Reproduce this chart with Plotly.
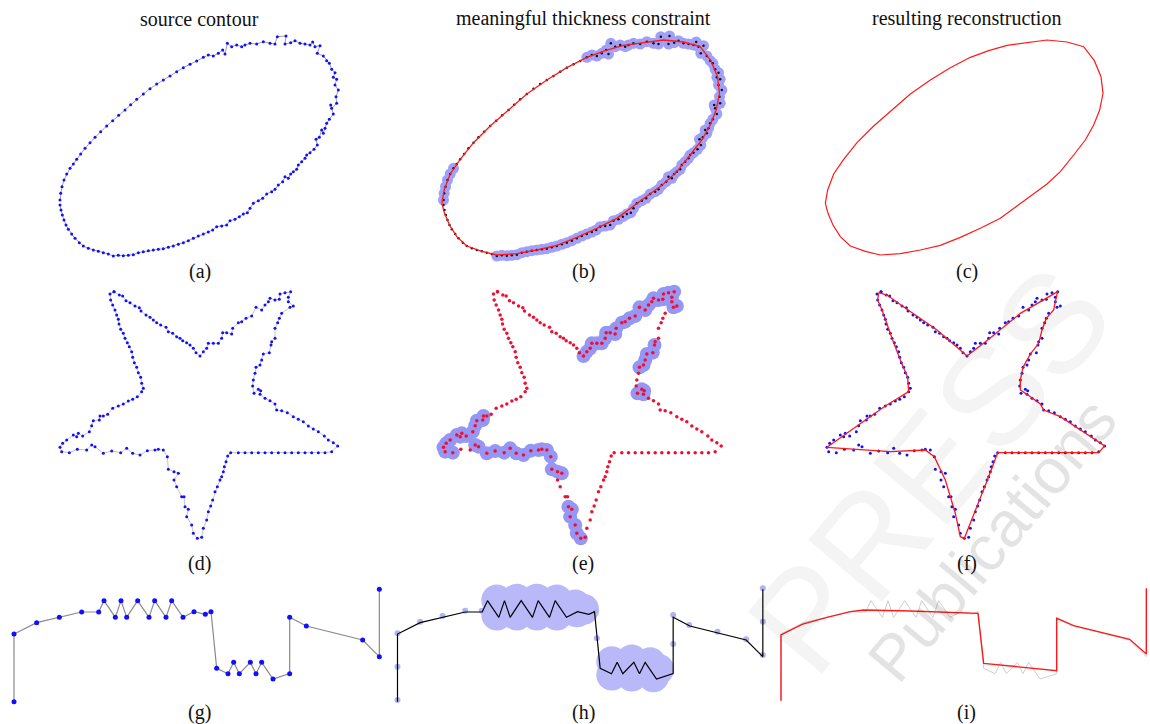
import plotly.graph_objects as go

# ---------------------------------------------------------------------------
# Contour data.  Coordinates are in each panel's local frame (1 unit = 1/3 px),
# third entry of a contour point = 1 when the point lies in a noisy stretch
# that receives a thickness disc.
# ---------------------------------------------------------------------------
ELLIPSE = [
    (60, 510, 1), (62, 490, 1), (66, 470, 1), (72, 450, 1), (80, 432, 1), (90, 415, 1),
    (100, 402, 0), (110, 388, 0), (122, 372, 0), (135, 355, 0), (150, 338, 0), (165, 322, 0),
    (182, 305, 0), (200, 288, 0), (218, 272, 0), (236, 256, 0), (255, 240, 0), (272, 224, 0),
    (290, 208, 0), (310, 192, 0), (330, 176, 0), (350, 162, 0), (370, 150, 0), (390, 138, 0),
    (410, 125, 0), (430, 113, 0), (450, 103, 0), (470, 93, 0), (490, 82, 1), (505, 75, 1),
    (520, 78, 1), (535, 70, 1), (548, 60, 1), (555, 72, 1), (562, 40, 1), (575, 50, 1),
    (590, 45, 1), (605, 50, 1), (615, 45, 1), (630, 40, 1), (650, 42, 1), (670, 35, 1),
    (690, 40, 1), (705, 42, 1), (712, 20, 1), (738, 18, 1), (735, 42, 1), (752, 38, 1),
    (765, 32, 1), (780, 40, 1), (795, 42, 1), (810, 45, 1), (818, 36, 1), (825, 50, 1),
    (840, 47, 1), (832, 70, 1), (850, 78, 1), (860, 92, 1), (868, 100, 1), (875, 118, 1),
    (885, 128, 1), (880, 142, 1), (890, 148, 1), (885, 165, 1), (895, 180, 1), (888, 200, 1),
    (890, 220, 1), (875, 235, 1), (872, 225, 1), (880, 252, 1), (868, 268, 1), (860, 280, 1),
    (855, 295, 1), (850, 310, 1), (845, 300, 1), (838, 322, 1), (828, 328, 1), (832, 345, 1),
    (822, 358, 1), (810, 368, 1), (800, 375, 1), (795, 385, 1), (785, 395, 1), (775, 405, 1),
    (770, 418, 1), (760, 425, 1), (752, 432, 1), (745, 445, 1), (735, 440, 1), (728, 455, 1),
    (715, 465, 1), (705, 478, 1), (695, 485, 1), (680, 492, 1), (668, 505, 1), (655, 512, 1),
    (640, 520, 1), (630, 535, 1), (622, 548, 1), (610, 552, 1), (598, 560, 1), (585, 568, 1),
    (570, 572, 1), (560, 585, 1), (545, 588, 1), (530, 590, 1), (518, 600, 1), (505, 606, 1),
    (490, 612, 1), (475, 618, 1), (460, 625, 1), (445, 632, 1), (430, 638, 1), (415, 643, 1),
    (400, 648, 1), (385, 652, 1), (370, 656, 1), (355, 658, 1), (340, 660, 1), (325, 662, 1),
    (310, 665, 1), (295, 668, 1), (280, 674, 1), (265, 676, 1), (250, 677, 1), (235, 676, 1),
    (220, 678, 1), (205, 672, 0), (190, 668, 0), (175, 664, 0), (160, 660, 0), (145, 655, 0),
    (130, 648, 0), (118, 638, 0), (105, 625, 0), (95, 612, 0), (85, 598, 0), (78, 585, 0),
    (72, 570, 0), (67, 555, 0), (63, 540, 0), (60, 525, 0),
]

# reconstructed polygon for the ellipse
ELLIPSE_FIT = [
    (55, 520), (62, 480), (80, 432), (110, 388), (150, 338), (200, 288), (255, 240),
    (310, 192), (370, 150), (430, 113), (490, 82), (545, 62), (600, 46), (660, 38),
    (720, 30), (780, 36), (830, 50), (862, 92), (882, 140), (888, 190), (878, 240),
    (860, 285), (835, 330), (800, 375), (760, 425), (720, 462), (680, 492), (630, 530),
    (580, 565), (520, 595), (460, 622), (400, 646), (340, 660), (280, 671), (220, 675),
    (175, 664), (130, 648), (100, 620), (78, 585), (63, 550), (55, 520),
]

STAR = [
    (222, 35, 0), (210, 42, 0), (212, 60, 0), (218, 75, 0), (225, 90, 0), (230, 105, 0),
    (235, 118, 0), (237, 132, 0), (242, 148, 0), (250, 160, 0), (255, 175, 0), (262, 188, 0),
    (268, 200, 0), (275, 215, 0), (278, 232, 0), (283, 248, 0), (290, 262, 0), (295, 278, 0),
    (302, 292, 0), (305, 310, 0), (310, 325, 0), (305, 335, 0), (292, 350, 0), (278, 358, 0),
    (265, 363, 0), (250, 372, 0), (235, 378, 0), (218, 385, 0), (203, 403, 0), (190, 408, 0),
    (180, 408, 1), (178, 420, 1), (160, 422, 1), (155, 437, 1), (148, 455, 1), (128, 468, 1),
    (115, 460, 1), (110, 470, 1), (100, 465, 1), (80, 480, 1), (68, 490, 1), (60, 502, 1),
    (65, 515, 1), (88, 518, 1), (112, 508, 0), (140, 510, 0), (155, 495, 1), (165, 500, 1),
    (190, 520, 1), (215, 513, 1), (242, 518, 1), (260, 505, 1), (278, 520, 1), (300, 525, 1),
    (322, 512, 1), (345, 510, 1), (355, 508, 1), (370, 510, 1), (382, 530, 1), (385, 568, 1),
    (402, 575, 1), (415, 580, 1), (402, 600, 0), (410, 620, 0), (425, 650, 0), (432, 650, 0),
    (435, 680, 1), (445, 688, 1), (440, 710, 1), (455, 735, 1), (460, 760, 1), (472, 775, 1),
    (485, 772, 0), (490, 745, 0), (500, 720, 0), (505, 695, 0), (512, 678, 0), (518, 660, 0),
    (525, 635, 0), (532, 620, 0), (540, 600, 0), (545, 590, 0), (550, 575, 0), (553, 560, 0),
    (558, 545, 0), (563, 528, 0), (572, 518, 0), (595, 518, 0), (615, 518, 0), (635, 518, 0),
    (655, 518, 0), (675, 518, 0), (695, 518, 0), (715, 518, 0), (735, 518, 0), (755, 518, 0),
    (775, 518, 0), (795, 518, 0), (815, 518, 0), (835, 518, 0), (855, 518, 0), (875, 515, 0),
    (893, 498, 0), (880, 488, 0), (865, 480, 0), (853, 468, 0), (835, 455, 0), (820, 447, 0),
    (805, 438, 0), (790, 425, 0), (775, 418, 0), (760, 410, 0), (742, 398, 0), (725, 392, 0),
    (710, 390, 0), (705, 372, 0), (690, 362, 0), (675, 355, 0), (660, 343, 1), (662, 332, 1),
    (655, 328, 1), (642, 340, 1), (638, 318, 0), (640, 300, 0), (645, 280, 0), (648, 262, 1),
    (660, 255, 1), (665, 240, 1), (670, 222, 1), (688, 218, 1), (693, 195, 1), (695, 185, 0),
    (705, 175, 0), (705, 145, 0), (713, 128, 0), (718, 115, 0), (725, 100, 0), (750, 82, 1),
    (760, 78, 1), (745, 65, 1), (745, 52, 1), (752, 35, 1), (735, 38, 1), (720, 42, 1),
    (718, 58, 1), (705, 60, 1), (690, 55, 1), (685, 65, 1), (675, 75, 1), (665, 90, 1),
    (648, 82, 1), (635, 108, 1), (618, 115, 1), (605, 125, 1), (595, 128, 1), (578, 145, 1),
    (575, 162, 1), (560, 158, 1), (548, 158, 1), (545, 175, 1), (535, 190, 1), (520, 190, 1),
    (505, 190, 1), (500, 205, 1), (490, 215, 1), (480, 228, 1), (468, 218, 0), (460, 205, 0),
    (450, 195, 0), (440, 188, 0), (428, 182, 0), (420, 175, 0), (410, 170, 0), (398, 160, 0),
    (385, 155, 0), (378, 142, 0), (362, 135, 0), (350, 128, 0), (340, 120, 0), (330, 112, 0),
    (318, 105, 0), (303, 93, 0), (298, 83, 0), (285, 78, 0), (270, 68, 0), (258, 62, 0),
    (248, 48, 0), (238, 45, 0), (222, 35, 0),
]

# reconstructed polygon for the star
STAR_FIT = [
    (215, 38), (240, 45), (300, 88), (390, 150), (480, 228), (545, 178), (640, 100),
    (752, 35), (745, 65), (740, 90), (718, 115), (705, 150), (695, 190), (670, 222),
    (648, 262), (640, 300), (640, 330), (660, 343), (700, 372), (710, 390), (760, 410),
    (893, 498), (875, 518), (572, 518), (545, 590), (510, 680), (472, 775), (460, 770),
    (445, 700), (415, 600), (382, 530), (355, 510), (250, 515), (60, 502), (160, 430),
    (235, 378), (305, 335), (302, 292), (280, 240), (255, 175), (225, 90), (212, 60),
    (215, 38),
]

# open polyline with two zig-zag stretches
STEP = [
    (42, 365), (42, 162), (110, 128), (178, 112), (245, 96), (296, 96), (312, 62),
    (346, 112), (363, 62), (380, 112), (413, 62), (447, 112), (464, 62), (498, 112),
    (515, 62), (549, 112), (582, 95), (616, 103), (633, 95), (650, 265), (684, 281),
    (701, 247), (718, 281), (751, 247), (768, 281), (785, 247), (819, 297), (869, 281),
    (869, 112), (919, 138), (1088, 180), (1138, 230), (1138, 28),
]

# resampled points shown outside the thick zones
STEP_SAMPLES = [
    (42, 360), (42, 260), (42, 160), (110, 125), (177, 108), (245, 92), (295, 92),
    (637, 95), (640, 175), (869, 105), (869, 192), (917, 135), (1002, 155),
    (1088, 178), (1138, 225), (1138, 125), (1138, 25),
]

# centres of the thickness discs covering the zig-zags
STEP_BLOBS = [
    (340, 60), (400, 58), (460, 58), (520, 60), (575, 75), (340, 105), (400, 105),
    (460, 105), (520, 105), (580, 95), (600, 88),
    (685, 245), (745, 240), (800, 248), (685, 285), (745, 288), (810, 290), (825, 268),
]

# reconstructed polyline
STEP_FIT = [
    (42, 362), (42, 165), (105, 133), (180, 112), (250, 95), (290, 90), (430, 93),
    (633, 100), (650, 250), (869, 272), (869, 115), (920, 137), (1088, 178),
    (1138, 222), (1138, 25),
]

TITLES = ["source contour", "meaningful thickness constraint", "resulting reconstruction"]
LETTERS = ["(a)", "(b)", "(c)", "(d)", "(e)", "(f)", "(g)", "(h)", "(i)"]

# ---------------------------------------------------------------------------
W, H = 1150, 724
COL_LEFT = [0.0, 383.5, 767.0]
COL_W = 383.0
# (top px, bottom px, local-origin x px, local-origin y px)
ROWS = [(28, 268, 40, 30), (282, 548, 40, 280), (576, 712, 0, 580)]
UNITS_PER_PX = 3.0
TITLE_Y = 19
LETTER_Y = [271, 563, 712]

SERIF = "'Liberation Serif', 'Times New Roman', 'DejaVu Serif', serif"

fig = go.Figure()
layout_axes = {}


def axis_names(r, c):
    k = r * 3 + c + 1
    return ("x" if k == 1 else f"x{k}"), ("y" if k == 1 else f"y{k}"), k


for r, (top, bot, ox, oy) in enumerate(ROWS):
    for c in range(3):
        xa, ya, k = axis_names(r, c)
        sfx = "" if k == 1 else str(k)
        x0 = COL_LEFT[c]
        layout_axes[f"xaxis{sfx}"] = dict(
            domain=[x0 / W, min(1.0, (x0 + COL_W) / W)],
            range=[(0 - ox) * UNITS_PER_PX, (COL_W - ox) * UNITS_PER_PX],
            visible=False, fixedrange=True, anchor=ya,
        )
        layout_axes[f"yaxis{sfx}"] = dict(
            domain=[1 - bot / H, 1 - top / H],
            range=[(bot - oy) * UNITS_PER_PX, (top - oy) * UNITS_PER_PX],
            visible=False, fixedrange=True, anchor=xa,
        )


def add(r, c, **kw):
    xa, ya, _ = axis_names(r, c)
    kw.setdefault("hoverinfo", "skip")
    kw.setdefault("showlegend", False)
    kw.setdefault("cliponaxis", False)
    fig.add_trace(go.Scatter(xaxis=xa, yaxis=ya, **kw))


def xs(pts):
    return [p[0] for p in pts]


def ys(pts):
    return [p[1] for p in pts]


def noisy(pts):
    return [p for p in pts if p[2] == 1]


BLUE = "#1010ff"
RED = "#ff1a1a"
DISC = "rgb(160,160,248)"
DISC_H = "rgb(185,185,250)"

# ---- row 1: ellipse ----
add(0, 0, x=xs(ELLIPSE), y=ys(ELLIPSE), mode="lines+markers",
    line=dict(color="rgba(150,150,150,0.9)", width=1),
    marker=dict(color=BLUE, size=3))
add(0, 1, x=xs(noisy(ELLIPSE)), y=ys(noisy(ELLIPSE)), mode="markers",
    marker=dict(color=DISC, size=11, line=dict(width=0)))
add(0, 1, x=xs(ELLIPSE), y=ys(ELLIPSE), mode="markers",
    marker=dict(color="#111111", size=2.5))
add(0, 1, x=xs(ELLIPSE_FIT), y=ys(ELLIPSE_FIT), mode="lines",
    line=dict(color=RED, width=1.3))
add(0, 2, x=xs(ELLIPSE_FIT), y=ys(ELLIPSE_FIT), mode="lines",
    line=dict(color=RED, width=1.2))

# ---- row 2: star ----
add(1, 0, x=xs(STAR), y=ys(STAR), mode="lines+markers",
    line=dict(color="rgba(190,190,190,0.9)", width=1),
    marker=dict(color=BLUE, size=3))
add(1, 1, x=xs(noisy(STAR)), y=ys(noisy(STAR)), mode="markers",
    marker=dict(color="rgb(150,150,245)", size=14, line=dict(width=0)))
add(1, 1, x=xs(STAR), y=ys(STAR), mode="markers",
    marker=dict(color="#ee1030", size=3.5))
add(1, 2, x=xs(STAR), y=ys(STAR), mode="markers",
    marker=dict(color=BLUE, size=3))
add(1, 2, x=xs(STAR_FIT), y=ys(STAR_FIT), mode="lines",
    line=dict(color=RED, width=1.3))

# ---- row 3: step polyline ----
add(2, 0, x=xs(STEP), y=ys(STEP), mode="lines+markers",
    line=dict(color="#8a8a8a", width=1.2),
    marker=dict(color=BLUE, size=5))
add(2, 1, x=xs(STEP_BLOBS), y=ys(STEP_BLOBS), mode="markers",
    marker=dict(color=DISC_H, size=31, line=dict(width=0)))
add(2, 1, x=xs(STEP_SAMPLES), y=ys(STEP_SAMPLES), mode="markers",
    marker=dict(color="rgb(178,178,240)", size=6))
add(2, 1, x=xs(STEP), y=ys(STEP), mode="lines",
    line=dict(color="#000000", width=1.2))
add(2, 2, x=xs(STEP), y=ys(STEP), mode="lines",
    line=dict(color="#cfcfcf", width=1))
add(2, 2, x=xs(STEP_FIT), y=ys(STEP_FIT), mode="lines",
    line=dict(color=RED, width=1.4))

# ---- text ----
annotations = []
col_centres = [199.5, 583.0, 966.5]
for c, t in enumerate(TITLES):
    annotations.append(dict(text=t, x=col_centres[c] / W, y=1 - TITLE_Y / H,
                            xref="paper", yref="paper", showarrow=False,
                            xanchor="center", yanchor="middle",
                            font=dict(family=SERIF, size=20, color="#111111")))
for i, t in enumerate(LETTERS):
    r, c = divmod(i, 3)
    annotations.append(dict(text=t, x=col_centres[c] / W, y=1 - LETTER_Y[r] / H,
                            xref="paper", yref="paper", showarrow=False,
                            xanchor="center", yanchor="middle",
                            font=dict(family=SERIF, size=20, color="#111111")))

# publisher watermark
annotations.append(dict(text="PRESS", x=930 / W, y=1 - 470 / H, xref="paper", yref="paper",
                        showarrow=False, textangle=-50, xanchor="center", yanchor="middle",
                        font=dict(family="Liberation Sans", size=140,
                                  color="rgba(0,0,0,0.045)")))
annotations.append(dict(text="Publications", x=992 / W, y=1 - 540 / H, xref="paper",
                        yref="paper", showarrow=False, textangle=-50,
                        xanchor="center", yanchor="middle",
                        font=dict(family="Liberation Sans", size=64,
                                  color="rgba(0,0,0,0.11)")))

fig.update_layout(
    width=W, height=H,
    margin=dict(l=0, r=0, t=0, b=0),
    paper_bgcolor="white", plot_bgcolor="rgba(0,0,0,0)",
    showlegend=False,
    annotations=annotations,
    **layout_axes,
)

fig.write_html("out.html", config={"displayModeBar": False})
